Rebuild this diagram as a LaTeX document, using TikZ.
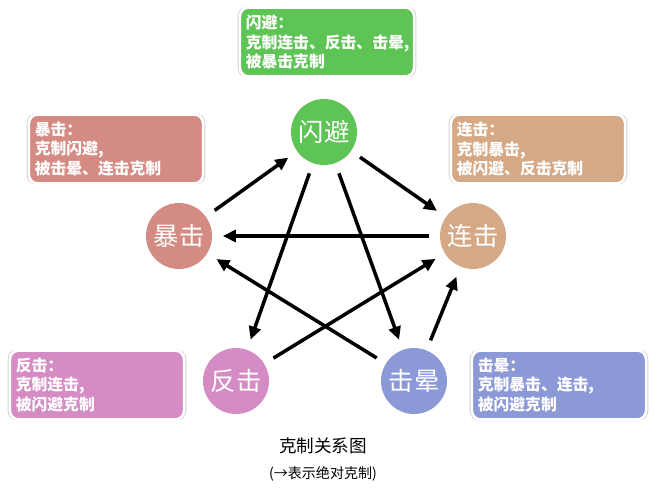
\documentclass[tikz,border=0pt]{standalone}
\usepackage{fontspec}
\setmainfont{Noto Sans CJK SC}
\usetikzlibrary{arrows.meta,positioning,shadows}
\definecolor{cdodge}{HTML}{5EC455}
\definecolor{ccrit}{HTML}{D48B84}
\definecolor{ccombo}{HTML}{D5A985}
\definecolor{ccounter}{HTML}{D58BC3}
\definecolor{cstun}{HTML}{8C99D7}
\tikzset{
    skill/.style={
        circle,
        minimum size=1.32cm,
        inner sep=0pt,
        text=white,
        font=\Large
    },
    info/.style={
        draw=white,
        line width=1.5pt,
        rounded corners=5pt,
        text width=3.25cm,
        minimum height=1.38cm,
        align=left,
        text=white,
        font=\small\bfseries,
        drop shadow={opacity=0.35,shadow xshift=0pt,shadow yshift=0pt,
            shadow scale=1.025}
    },
    beat/.style={
        -{Triangle[length=2.6mm,width=2.4mm]},
        line width=2pt,
        shorten >=6pt,
        shorten <=6pt
    }
}
\begin{document}
\begin{tikzpicture}[x=0.02cm,y=-0.02cm]
    \useasboundingbox (0,0) rectangle (655,487);
    % Skills
    \node[skill,fill=cdodge] (dodge) at (324,132) {闪避};
    \node[skill,fill=ccrit] (crit) at (179,236) {暴击};
    \node[skill,fill=ccombo] (combo) at (473,236) {连击};
    \node[skill,fill=ccounter] (counter) at (236,381) {反击};
    \node[skill,fill=cstun] (stun) at (414,381) {击晕};

    % Notes
    \node[info,fill=cdodge] (ndodge) at (327,42) {闪避：\\克制连击、反击、击晕,\\被暴击克制};
    \node[info,fill=ccrit] (ncrit) at (116,149) {暴击：\\克制闪避,\\被击晕、连击克制};
    \node[info,fill=ccombo] (ncombo) at (538,149) {连击：\\克制暴击,\\被闪避、反击克制};
    \node[info,fill=ccounter] (ncounter) at (97,385) {反击：\\克制连击,\\被闪避克制};
    \node[info,fill=cstun] (nstun) at (559,385) {击晕：\\克制暴击、连击,\\被闪避克制};

    % Counters
    \draw[beat] (crit) -- (dodge);
    \draw[beat] (dodge) -- (combo);
    \draw[beat] (combo) -- (crit);
    \draw[beat] (dodge) -- (counter);
    \draw[beat] (dodge) -- (stun);
    \draw[beat] (counter) -- (combo);
    \draw[beat] (stun) -- (crit);
    \draw[beat] (stun) -- (combo);

    % Title
    \node (title) at (323,446) {克制关系图};
    \node[font=\footnotesize,below=0pt of title] (sub) {(→表示绝对克制)};
\end{tikzpicture}
\end{document}
